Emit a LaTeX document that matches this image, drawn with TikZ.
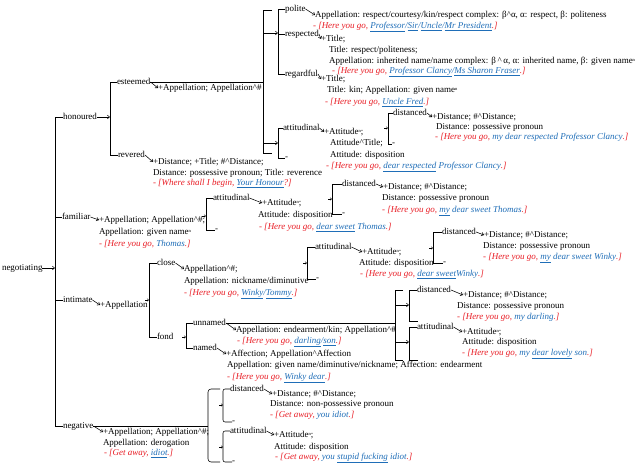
\documentclass[tikz,border=0pt]{standalone}
\usepackage{fontspec}
\setmainfont{Liberation Serif}
\usetikzlibrary{arrows.meta,calc}
\definecolor{exred}{RGB}{233,28,36}
\definecolor{exblue}{RGB}{31,110,184}
\newcommand\fs{\fontsize{9}{11}\selectfont}
\newcommand\exB[1]{\textcolor{exblue}{#1}}
\newcommand\exU[1]{\textcolor{exblue}{\underline{#1}}}
\newcommand\tmk{\raisebox{2pt}{\fontsize{4.5}{5}\selectfont n}}
\newcommand\crt{\textasciicircum}
\tikzset{
  tx/.style={inner sep=0pt, outer sep=0pt, anchor=west, text height=6.3pt, text depth=1.8pt, font=\fs},
  dsh/.style={inner sep=0pt, outer sep=0pt, anchor=west, font=\fs},
  exl/.style={tx, text=exred, font=\fs\itshape},
  ln/.style={line width=0.55pt},
  arr/.style={ln, -{Straight Barb[length=2.2pt,width=3.6pt]}},
  tarr/.style={line width=0.4pt, -{Straight Barb[length=1.6pt,width=2.6pt]}},
}
\begin{document}
\begin{tikzpicture}[x=1pt,y=-1pt]
\fill[white] (0,0) rectangle (635,474);
\useasboundingbox (0,0) rectangle (635,474);
% ---------- root ----------
\coordinate (x0) at (55,0);
\node[tx] (negotiating) at (2,268) {negotiating};
\node[tx] (honoured) at (63,117) {honoured};
\node[tx] (familiar) at (62,217) {familiar};
\node[tx] (intimate) at (63,300) {intimate};
\node[tx] (negative) at (63,426) {negative};
\draw[arr] (negotiating.east) -- (negotiating.east -| x0);
\draw[ln] (honoured.west) -- (honoured.west -| x0) -- (negative.west -| x0) -- (negative.west);
\draw[ln] (familiar.west) -- (familiar.west -| x0);
\draw[ln] (intimate.west) -- (intimate.west -| x0);
% ---------- honoured ----------
\coordinate (x1) at (110,0);
\draw[arr] (honoured.east) -- (honoured.east -| x1);
\node[tx] (esteemed) at (117,82) {esteemed};
\node[tx] (revered) at (118,155) {revered};
\draw[ln] (esteemed.west) -- (esteemed.west -| x1) -- (revered.west -| x1) -- (revered.west);
\node[tx] (estA) at (158,88) {+Appellation; Appellation\crt\#};
\draw[arr] (esteemed.east) -- (estA.west);
\coordinate (x2) at (263,0);
\draw[ln] (esteemed.east) -- (esteemed.east -| x2);
\coordinate (b2t) at (263,10);
\coordinate (b2b) at (263,153);
\draw[ln] ([xshift=9pt]b2t) -- (b2t) -- (b2b) -- ([xshift=9pt]b2b);
\coordinate (x3) at (278,0);
\coordinate (b2e1) at (263,33);
\coordinate (b2e2) at (263,143);
\draw[arr] (b2e1) -- (b2e1 -| x3);
\draw[arr] (b2e2) -- (b2e2 -| x3);
% polite / respected / regardful
\node[tx] (polite) at (285,9) {polite};
\node[tx] (respected) at (285,34) {respected};
\node[tx] (regardful) at (285,74) {regardful};
\draw[ln] (polite.west) -- (polite.west -| x3) -- (regardful.west -| x3) -- (regardful.west);
\draw[ln] (respected.west) -- (respected.west -| x3);
\node[tx] (polA) at (315,15) {Appellation: respect/courtesy/kin/respect complex: β\crt α, α: respect, β: politeness};
\node[exl] (polB) at (313,26) {- [Here you go, \exU{Professor}\exB{/}\exU{Sir}\exB{/}\exU{Uncle}\exB{/}\exU{Mr President}.]};
\draw[arr] (polite.east) -- (polA.west);
\node[tx] (resA) at (321,39) {+Title;};
\node[tx] (resB) at (329,50) {Title: respect/politeness;};
\node[tx] (resC) at (329,61) {Appellation: inherited name/name complex: β\,\crt\,α, α: inherited name, β: given name\tmk};
\node[exl] (resD) at (332,71) {- [Here you go, \exU{Professor Clancy}\exB{/}\exU{Ms Sharon Fraser}.]};
\draw[arr] (respected.east) -- (resA.west);
\node[tx] (regA) at (321,79) {+Title;};
\node[tx] (regB) at (327,90) {Title: kin; Appellation: given name\tmk};
\node[exl] (regC) at (325,102) {- [Here you go, \exU{Uncle Fred}.]};
\draw[arr] (regardful.east) -- (regA.west);
% attitudinal (esteemed)
\node[tx] (att1) at (283,128) {attitudinal};
\node[dsh] (att1n) at (285,158) {-};
\draw[ln] (att1.west) -- (att1.west -| x3) -- (att1n.west -| x3) -- (att1n.west);
\node[tx] (att1A) at (324,132) {+Attitude\tmk;};
\node[tx] (att1B) at (330,143) {Attitude\crt Title;};
\node[tx] (att1C) at (330,155) {Attitude: disposition};
\node[exl] (att1D) at (326,166) {- [Here you go, \exU{dear respected} \exB{Professor Clancy}.]};
\draw[arr] (att1.east) -- (att1A.west);
\coordinate (x5) at (388,0);
\node[tx] (dis1) at (393,113) {distanced};
\node[dsh] (dis1n) at (392,144) {-};
\draw[ln] (dis1.west) -- (dis1.west -| x5) -- (dis1n.west -| x5) -- (dis1n.west);
\coordinate (b5e) at (388,128);
\draw[tarr] ($(b5e)+(-4,0)$) -- (b5e);
\node[tx] (dis1A) at (432,117) {+Distance; \#\crt Distance;};
\node[tx] (dis1B) at (436,127) {Distance: possessive pronoun};
\node[exl] (dis1C) at (435,137) {- [Here you go, \exB{my dear respected Professor Clancy}.]};
\draw[arr] (dis1.east) -- (dis1A.west);
% revered
\node[tx] (revA) at (153,162) {+Distance; +Title; \#\crt Distance;};
\node[tx] (revB) at (153,173) {Distance: possessive pronoun; Title: reverence};
\node[exl] (revC) at (153,183) {- [Where shall I begin, \exU{Your Honour}?]};
\draw[arr] (revered.east) -- (revA.west);
% ---------- familiar ----------
\node[tx] (famA) at (99,220) {+Appellation; Appellation\crt\#;};
\node[tx] (famB) at (99,232) {Appellation: given name\tmk};
\node[exl] (famC) at (99,244) {- [Here you go, \exB{Thomas}.]};
\draw[arr] (familiar.east) -- (famA.west);
\coordinate (x6) at (206,0);
\node[tx] (att2) at (213,198) {attitudinal};
\node[dsh] (att2n) at (215,230) {-};
\draw[ln] (att2.west) -- (att2.west -| x6) -- (att2n.west -| x6) -- (att2n.west);
\coordinate (b6e) at (206,216);
\draw[tarr] ($(b6e)+(-4,0)$) -- (b6e);
\node[tx] (att2A) at (262,203) {+Attitude\tmk;};
\node[tx] (att2B) at (258,215) {Attitude: disposition};
\node[exl] (att2C) at (259,227) {- [Here you go, \exU{dear sweet} \exB{Thomas}.]};
\draw[arr] (att2.east) -- (att2A.west);
\coordinate (x7) at (332,0);
\node[tx] (dis2) at (342,184) {distanced};
\node[dsh] (dis2n) at (342,214) {-};
\draw[ln] (dis2.west) -- (dis2.west -| x7) -- (dis2n.west -| x7) -- (dis2n.west);
\coordinate (b7e) at (332,199);
\draw[tarr] ($(b7e)+(-4,0)$) -- (b7e);
\node[tx] (dis2A) at (383,187) {+Distance; \#\crt Distance;};
\node[tx] (dis2B) at (382,198) {Distance: possessive pronoun};
\node[exl] (dis2C) at (382,210) {- [Here you go, \exU{my} \exB{dear sweet Thomas}.]};
\draw[arr] (dis2.east) -- (dis2A.west);
% ---------- intimate ----------
\node[tx] (intA) at (100,305) {+Appellation};
\draw[arr] (intimate.east) -- (intA.west);
\coordinate (x8) at (149,0);
\node[tx] (close) at (157,263) {close};
\node[tx] (fond) at (157,337) {fond};
\draw[ln] (close.west) -- (close.west -| x8) -- (fond.west -| x8) -- (fond.west);
\coordinate (b8e) at (149,300);
\draw[tarr] ($(b8e)+(-4,0)$) -- (b8e);
\node[tx] (cloA) at (184,269) {Appellation\crt\#;};
\node[tx] (cloB) at (184,281) {Appellation: nickname/diminutive};
\node[exl] (cloC) at (184,293) {- [Here you go, \exU{Winky}\exB{/}\exU{Tommy}.]};
\draw[arr] (close.east) -- (cloA.west);
\coordinate (x9) at (307,0);
\node[tx] (att3) at (315,247) {attitudinal};
\node[dsh] (att3n) at (316,279) {-};
\draw[ln] (att3.west) -- (att3.west -| x9) -- (att3n.west -| x9) -- (att3n.west);
\coordinate (b9e) at (307,263);
\draw[tarr] ($(b9e)+(-4,0)$) -- (b9e);
\node[tx] (att3A) at (362,252) {+Attitude\tmk;};
\node[tx] (att3B) at (359,263) {Attitude: disposition};
\node[exl] (att3C) at (360,274) {- [Here you go, \exU{dear sweet}\exB{Winky}.]};
\draw[arr] (att3.east) -- (att3A.west);
\coordinate (x10) at (433,0);
\node[tx] (dis3) at (442,232) {distanced};
\node[dsh] (dis3n) at (443,263) {-};
\draw[ln] (dis3.west) -- (dis3.west -| x10) -- (dis3n.west -| x10) -- (dis3n.west);
\coordinate (b10e) at (433,248);
\draw[tarr] ($(b10e)+(-4,0)$) -- (b10e);
\node[tx] (dis3A) at (484,235) {+Distance; \#\crt Distance;};
\node[tx] (dis3B) at (483,246) {Distance: possessive pronoun};
\node[exl] (dis3C) at (483,257) {- [Here you go, \exU{my} \exB{dear sweet Winky}.]};
\draw[arr] (dis3.east) -- (dis3A.west);
% fond
\coordinate (x11) at (186,0);
\node[tx] (unnamed) at (193,323) {unnamed};
\node[tx] (named) at (193,348) {named};
\draw[ln] (unnamed.west) -- (unnamed.west -| x11) -- (named.west -| x11) -- (named.west);
\coordinate (b11e) at (186,337);
\draw[tarr] ($(b11e)+(-4,0)$) -- (b11e);
\node[tx] (unnA) at (236,330) {Appellation: endearment/kin; Appellation\crt\#};
\node[exl] (unnB) at (237,341) {- [Here you go, \exU{darling}\exB{/}\exU{son}.]};
\draw[arr] (unnamed.east) -- (unnA.west);
\node[tx] (namA) at (226,354) {+Affection; Appellation\crt Affection};
\node[tx] (namB) at (227,365) {Appellation: given name/diminutive/nickname; Affection: endearment};
\node[exl] (namC) at (227,377) {- [Here you go, \exU{Winky dear}.]};
\draw[arr] (named.east) -- (namA.west);
\coordinate (x12) at (395,0);
\draw[ln] (unnamed.east) -- (unnamed.east -| x12);
\coordinate (b12t) at (395,290);
\coordinate (b12b) at (395,360);
\draw[ln] ([xshift=8pt]b12t) -- (b12t) -- (b12b) -- ([xshift=8pt]b12b);
\coordinate (x13) at (409,0);
\coordinate (b12e1) at (395,305);
\coordinate (b12e2) at (395,342);
\draw[arr] (b12e1) -- (b12e1 -| x13);
\draw[arr] (b12e2) -- (b12e2 -| x13);
\node[tx] (dis4) at (417,290) {distanced};
\coordinate (dis4n) at (418,321);
\draw[ln] (dis4.west) -- (dis4.west -| x13) -- (dis4n -| x13) -- (dis4n);
\node[tx] (dis4A) at (463,295) {+Distance; \#\crt Distance;};
\node[tx] (dis4B) at (457,306) {Distance: possessive pronoun};
\node[exl] (dis4C) at (457,317) {- [Here you go, \exB{my darling}.]};
\draw[arr] (dis4.east) -- (dis4A.west);
\node[tx] (att4) at (417,327) {attitudinal};
\coordinate (att4n) at (418,360);
\draw[ln] (att4.west) -- (att4.west -| x13) -- (att4n -| x13) -- (att4n);
\node[tx] (att4A) at (462,332) {+Attitude\tmk;};
\node[tx] (att4B) at (462,342) {Attitude: disposition};
\node[exl] (att4C) at (462,353) {- [Here you go, \exB{my} \exU{dear lovely} \exB{son}.]};
\draw[arr] (att4.east) -- (att4A.west);
% ---------- negative ----------
\coordinate (x15) at (208,0);
\draw[ln] (negative.east) -- (negative.east -| x15);
\node[tx] (negA) at (103,432) {+Appellation; Appellation\crt\#;};
\node[tx] (negB) at (103,443) {Appellation: derogation};
\node[exl] (negC) at (104,453) {- [Get away, \exU{idiot}.]};
\draw[arr] (negative.east) -- (negA.west);
\coordinate (b15t) at (208,389);
\coordinate (b15b) at (208,462);
\draw[ln, rounded corners=3pt] ([xshift=12pt]b15t) -- (b15t) -- (b15b) -- ([xshift=12pt]b15b);
\coordinate (x16) at (223,0);
\node[tx] (dis5) at (230,389) {distanced};
\node[dsh] (dis5n) at (232,422) {-};
\draw[ln, rounded corners=2pt] (dis5.west) -- (dis5.west -| x16) -- (dis5n.west -| x16) -- (dis5n.west);
\coordinate (b16e) at (223,405);
\draw[tarr] ($(b16e)+(-4,0)$) -- (b16e);
\node[tx] (dis5A) at (272,394) {+Distance; \#\crt Distance;};
\node[tx] (dis5B) at (270,404) {Distance: non-possessive pronoun};
\node[exl] (dis5C) at (270,415) {- [Get away, \exB{you idiot}.]};
\draw[arr] (dis5.east) -- (dis5A.west);
\node[tx] (att5) at (230,431) {attitudinal};
\node[dsh] (att5n) at (232,462) {-};
\draw[ln, rounded corners=2pt] (att5.west) -- (att5.west -| x16) -- (att5n.west -| x16) -- (att5n.west);
\coordinate (b17e) at (223,447);
\draw[tarr] ($(b17e)+(-4,0)$) -- (b17e);
\node[tx] (att5A) at (274,435) {+Attitude\tmk;};
\node[tx] (att5B) at (274,447) {Attitude: disposition};
\node[exl] (att5C) at (275,457) {- [Get away, \exB{you} \exU{stupid fucking} \exB{idiot}.]};
\draw[arr] (att5.east) -- (att5A.west);
\end{tikzpicture}
\end{document}
